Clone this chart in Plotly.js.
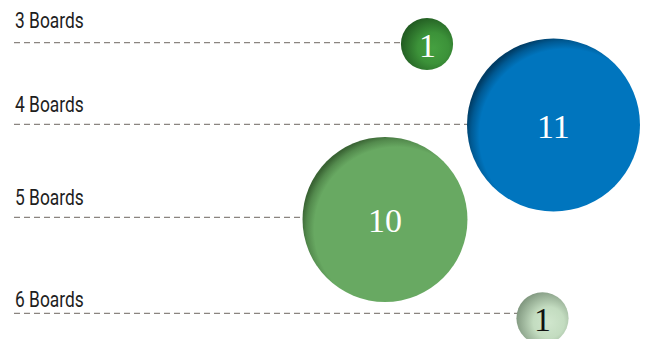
<!DOCTYPE html>
<html>
<head>
<meta charset="utf-8">
<script src="https://cdn.plot.ly/plotly-3.0.1.min.js"></script>
<style>
  html, body { margin: 0; padding: 0; background: #fff; }
  #chart { width: 646px; height: 339px; }
  #chart .scatterlayer .trace:nth-child(2) path.point { fill: url(#g0) !important; }
  #chart .scatterlayer .trace:nth-child(3) path.point { fill: url(#g1) !important; }
  #chart .scatterlayer .trace:nth-child(4) path.point { fill: url(#g2) !important; }
  #chart .scatterlayer .trace:nth-child(5) path.point { fill: url(#g3) !important; }
  #chart g.annotation[data-index="0"] text.annotation-text,
  #chart g.annotation[data-index="1"] text.annotation-text,
  #chart g.annotation[data-index="2"] text.annotation-text,
  #chart g.annotation[data-index="3"] text.annotation-text {
    transform-box: fill-box; transform-origin: left center; transform: scaleX(0.79);
  }
</style>
</head>
<body>
<svg width="0" height="0" style="position:absolute">
  <defs>
    <radialGradient id="g0" cx="0.62" cy="0.58" r="0.66" fx="0.62" fy="0.58">
      <stop offset="0" stop-color="#45a040"/>
      <stop offset="0.45" stop-color="#3c9239"/>
      <stop offset="1" stop-color="#1f561f"/>
    </radialGradient>
    <radialGradient id="g1" cx="0.57" cy="0.56" r="0.58" fx="0.57" fy="0.56">
      <stop offset="0" stop-color="#0075be"/>
      <stop offset="0.86" stop-color="#0075be"/>
      <stop offset="0.94" stop-color="#005a94"/>
      <stop offset="1" stop-color="#003d66"/>
    </radialGradient>
    <radialGradient id="g2" cx="0.57" cy="0.56" r="0.58" fx="0.57" fy="0.56">
      <stop offset="0" stop-color="#68a962"/>
      <stop offset="0.86" stop-color="#68a962"/>
      <stop offset="0.94" stop-color="#538a4d"/>
      <stop offset="1" stop-color="#3a6434"/>
    </radialGradient>
    <radialGradient id="g3" cx="0.62" cy="0.58" r="0.66" fx="0.62" fy="0.58">
      <stop offset="0" stop-color="#d0e6cd"/>
      <stop offset="0.45" stop-color="#c3dcc0"/>
      <stop offset="1" stop-color="#7c937b"/>
    </radialGradient>
  </defs>
</svg>
<div id="chart"></div>
<script>
// ---- data ----
var boards = ['3 Boards', '4 Boards', '5 Boards', '6 Boards'];
var counts = [1, 11, 10, 1];
var bubbleX = [427, 553.5, 385, 542.5];
var bubbleY = [44, 125, 219.5, 318.3];
var lineY = [42.7, 124.3, 217.3, 313.3];
var labelY = [35, 118.5, 211.5, 314];

// ---- styles ----
var bubbleColors = ['#3c9239', '#0075be', '#68a962', '#c3dcc0'];
var textColors = ['#ffffff', '#ffffff', '#ffffff', '#111111'];
var lineStartX = 14;
var maxDiameter = 173;

var traces = [];

// dashed guide lines (run under the bubbles)
var lx = [], ly = [];
for (var i = 0; i < boards.length; i++) {
  lx.push(lineStartX, bubbleX[i], null);
  ly.push(lineY[i], lineY[i], null);
}
traces.push({
  type: 'scatter', mode: 'lines', x: lx, y: ly,
  line: { color: '#8a8580', width: 1.2, dash: '6px,4px' },
  hoverinfo: 'skip', showlegend: false
});

var maxCount = Math.max.apply(null, counts);
for (var k = 0; k < boards.length; k++) {
  traces.push({
    type: 'scatter', mode: 'markers',
    x: [bubbleX[k]], y: [bubbleY[k]],
    marker: {
      size: [counts[k]], sizemode: 'area',
      sizeref: 2 * maxCount / (maxDiameter * maxDiameter),
      color: bubbleColors[k], line: { width: 0 }, opacity: 1
    },
    cliponaxis: false, hoverinfo: 'skip', showlegend: false, name: boards[k]
  });
}

var annotations = boards.map(function (b, i) {
  return {
    x: 13, y: labelY[i], xref: 'x', yref: 'y',
    xanchor: 'left', yanchor: 'bottom', showarrow: false,
    text: b, align: 'left',
    font: { family: 'Roboto, "Liberation Sans", Arial, sans-serif', size: 22, color: '#1e1e1e' }
  };
});
counts.forEach(function (c, i) {
  annotations.push({
    x: bubbleX[i], y: bubbleY[i], xref: 'x', yref: 'y',
    xanchor: 'center', yanchor: 'middle', showarrow: false,
    yshift: -1, borderpad: 0,
    text: String(c),
    font: { family: '"Liberation Serif", "DejaVu Serif", serif', size: 34, color: textColors[i] }
  });
});

var layout = {
  width: 646, height: 339,
  margin: { l: 0, r: 0, t: 0, b: 0, pad: 0 },
  paper_bgcolor: '#ffffff', plot_bgcolor: '#ffffff',
  xaxis: { range: [0, 646], visible: false, fixedrange: true },
  yaxis: { range: [339, 0], visible: false, fixedrange: true },
  showlegend: false,
  annotations: annotations
};

Plotly.newPlot('chart', traces, layout, { displayModeBar: false, staticPlot: true });
</script>
</body>
</html>
